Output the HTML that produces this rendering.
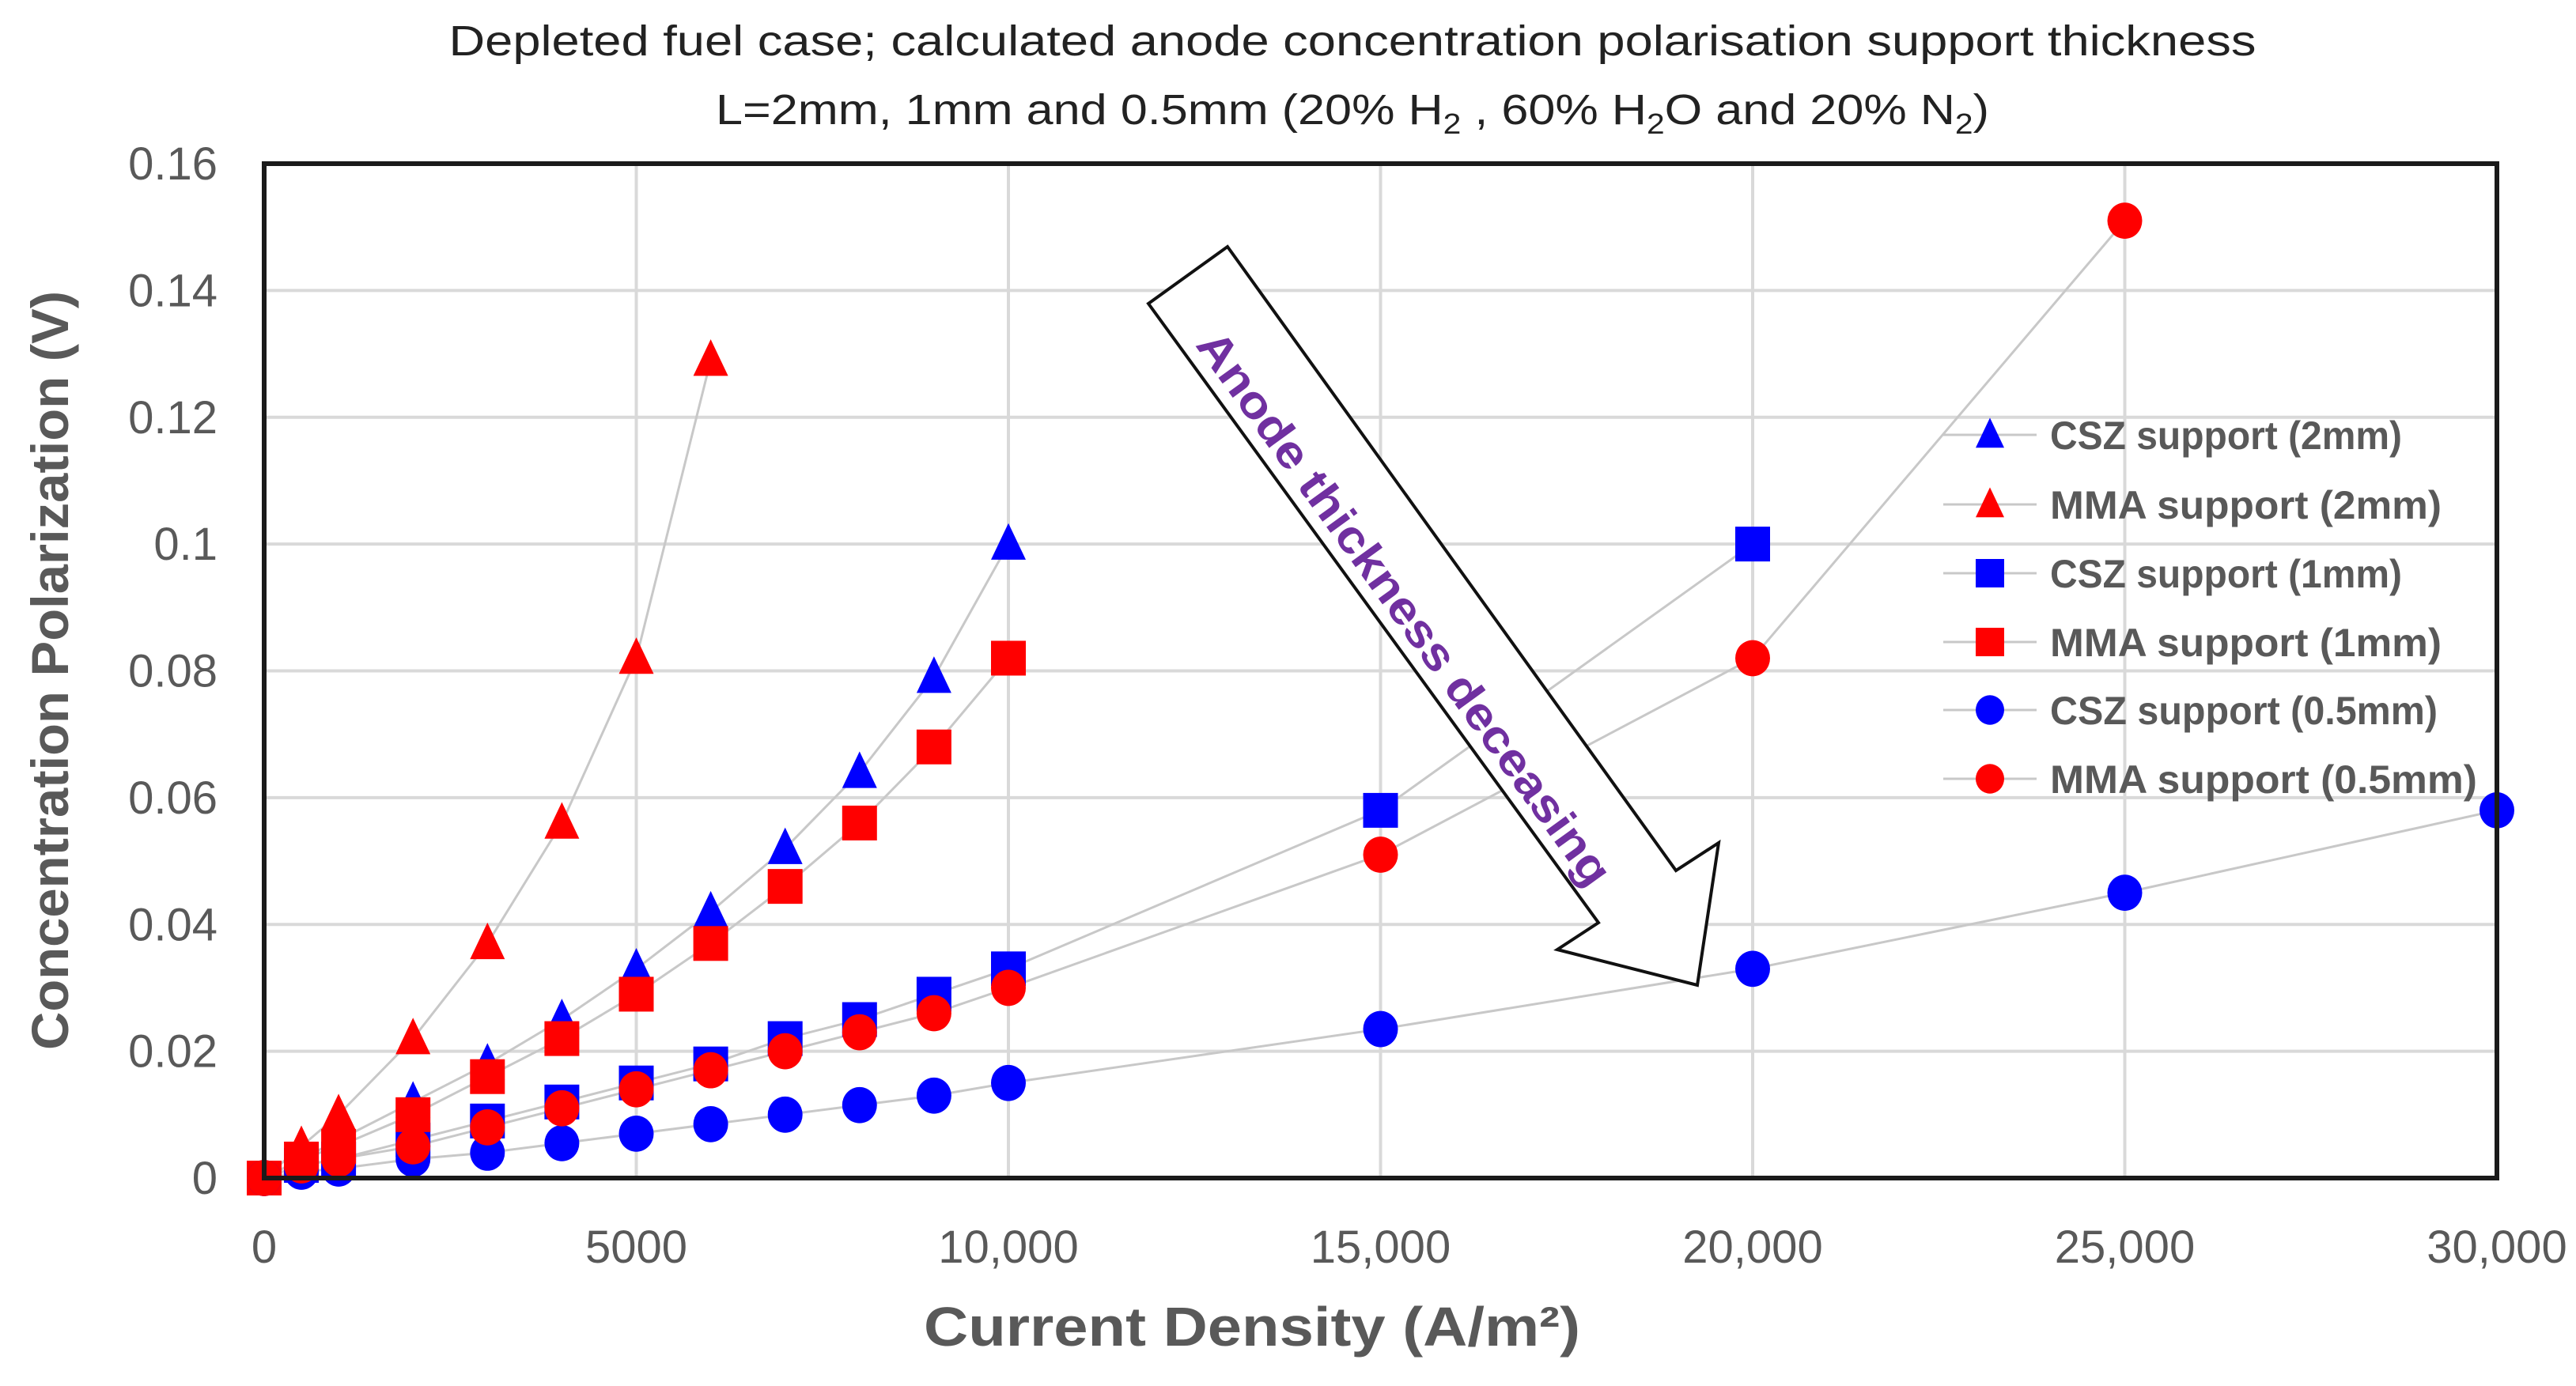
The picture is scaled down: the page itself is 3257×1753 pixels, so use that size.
<!DOCTYPE html>
<html><head><meta charset="utf-8"><style>
html,body{margin:0;padding:0;background:#fff;}
svg{display:block;}
text{font-family:"Liberation Sans",sans-serif;}
</style></head><body>
<svg id="chart" width="3257" height="1753" viewBox="0 0 3257 1753" xmlns="http://www.w3.org/2000/svg">
<g id="grid"></g>
<g id="lines"></g>
<g id="marks"></g>
<rect x="334" y="207" width="2823" height="1283" fill="none" stroke="#1a1a1a" stroke-width="6"/>
<g id="ticks"></g>
<text x="1710" y="70" font-size="54" fill="#222" text-anchor="middle" textLength="2285" lengthAdjust="spacingAndGlyphs">Depleted fuel case; calculated anode concentration polarisation support thickness</text>
<text x="1710" y="157" font-size="54" fill="#222" text-anchor="middle" textLength="1610" lengthAdjust="spacingAndGlyphs">L=2mm, 1mm and 0.5mm (20% H<tspan font-size="36" dy="12">2</tspan><tspan dy="-12"> , 60% H</tspan><tspan font-size="36" dy="12">2</tspan><tspan dy="-12">O and 20% N</tspan><tspan font-size="36" dy="12">2</tspan><tspan dy="-12">)</tspan></text>
<text transform="translate(86,848) rotate(-90)" font-size="66" font-weight="bold" fill="#595959" text-anchor="middle" textLength="960" lengthAdjust="spacingAndGlyphs">Concentration Polarization (V)</text>
<text x="1583" y="1702" font-size="70" font-weight="bold" fill="#595959" text-anchor="middle" textLength="830" lengthAdjust="spacingAndGlyphs">Current Density (A/m²)</text>
<g>
<polygon points="1552,312 2119,1101 2173,1066 2146,1246 1969,1201 2021,1167 1452,384" fill="#fff" stroke="#111" stroke-width="4"/>
<text x="1776" y="769" transform="rotate(54.1 1776 769)" font-size="58" font-weight="bold" fill="#7030A0" text-anchor="middle" dy="20" textLength="850" lengthAdjust="spacingAndGlyphs">Anode  thickness deceasing</text>
</g>
<g id="legend"></g>
</svg>
<script>
const xTicks=[0,5000,10000,15000,20000,25000,30000];
const xTickLabels=["0","5000","10,000","15,000","20,000","25,000","30,000"];
const yTicks=[0,0.02,0.04,0.06,0.08,0.1,0.12,0.14,0.16];
const yTickLabels=["0","0.02","0.04","0.06","0.08","0.1","0.12","0.14","0.16"];
const seriesNames=["CSZ support (2mm)","MMA support (2mm)","CSZ support (1mm)","MMA support (1mm)","CSZ support (0.5mm)","MMA support (0.5mm)"];
const cszX2=[0,500,1000,2000,3000,4000,5000,6000,7000,8000,9000,10000];
const cszY2=[0,0.003,0.006,0.012,0.018,0.025,0.033,0.042,0.052,0.064,0.079,0.1];
const mmaX2=[0,500,1000,2000,3000,4000,5000,6000];
const mmaY2=[0,0.005,0.01,0.022,0.037,0.056,0.082,0.129];
const cszX1=[0,500,1000,2000,3000,4000,5000,6000,7000,8000,9000,10000,15000,20000];
const cszY1=[0,0.002,0.003,0.006,0.009,0.012,0.015,0.018,0.022,0.025,0.029,0.033,0.058,0.1];
const mmaX1=[0,500,1000,2000,3000,4000,5000,6000,7000,8000,9000,10000];
const mmaY1=[0,0.003,0.005,0.01,0.016,0.022,0.029,0.037,0.046,0.056,0.068,0.082];
const cszX05=[0,500,1000,2000,3000,4000,5000,6000,7000,8000,9000,10000,15000,20000,25000,30000];
const cszY05=[0,0.001,0.0015,0.003,0.004,0.0055,0.007,0.0085,0.01,0.0115,0.013,0.015,0.0235,0.033,0.045,0.058];
const mmaX05=[0,500,1000,2000,3000,4000,5000,6000,7000,8000,9000,10000,15000,20000,25000];
const mmaY05=[0,0.002,0.003,0.005,0.008,0.011,0.014,0.017,0.02,0.023,0.026,0.03,0.051,0.082,0.151];

const NS="http://www.w3.org/2000/svg";
const L=334,R=3157,T=207,B=1490;
const xs=v=>L+(v-0)/(30000)*(R-L);
const ys=v=>B-(v/0.16)*(B-T);
function mk(tag,parent){const e=document.createElementNS(NS,tag);parent.appendChild(e);return e;}
const grid=document.getElementById('grid'),ticks=document.getElementById('ticks');
yTicks.forEach((v,i)=>{
 const l=mk('line',grid);
 
 
 l.setAttribute('x1',L);l.setAttribute('x2',R);l.setAttribute('y1',ys(v));l.setAttribute('y2',ys(v));
 l.setAttribute('stroke','#d9d9d9');l.setAttribute('stroke-width','4');
 const t=mk('text',ticks);
 
 
 t.setAttribute('x',275);t.setAttribute('y',ys(v)+20);t.setAttribute('text-anchor','end');
 t.setAttribute('font-size','58');t.setAttribute('fill','#595959');t.textContent=yTickLabels[i];
});
xTicks.forEach((v,i)=>{
 const l=mk('line',grid);
 
 
 l.setAttribute('x1',xs(v));l.setAttribute('x2',xs(v));l.setAttribute('y1',T);l.setAttribute('y2',B);
 l.setAttribute('stroke','#d9d9d9');l.setAttribute('stroke-width','4');
 const t=mk('text',ticks);
 
 
 t.setAttribute('x',xs(v));t.setAttribute('y',1597);t.setAttribute('text-anchor','middle');
 t.setAttribute('font-size','58');t.setAttribute('fill','#595959');t.textContent=xTickLabels[i];
});
const series=[[cszX2,cszY2,'#0000ff','tri'],[mmaX2,mmaY2,'#ff0000','tri'],[cszX1,cszY1,'#0000ff','sq'],[mmaX1,mmaY1,'#ff0000','sq'],[cszX05,cszY05,'#0000ff','circ'],[mmaX05,mmaY05,'#ff0000','circ']];
function marker(parent,shape,cx,cy,col,s){
 let e;
 if(shape==='tri'){e=mk('polygon',parent);e.setAttribute('points',`${cx},${cy-s*0.6} ${cx+s*0.5},${cy+s*0.45} ${cx-s*0.5},${cy+s*0.45}`);}
 else if(shape==='sq'){e=mk('rect',parent);e.setAttribute('x',cx-s*0.5);e.setAttribute('y',cy-s*0.5);e.setAttribute('width',s);e.setAttribute('height',s);}
 else{e=mk('ellipse',parent);e.setAttribute('cx',cx);e.setAttribute('cy',cy);e.setAttribute('rx',s*0.5);e.setAttribute('ry',s*0.52);}
 e.setAttribute('fill',col);return e;
}
const linesG=document.getElementById('lines'),marksG=document.getElementById('marks');
series.forEach(([X,Y,col,shape],si)=>{
 const p=mk('polyline',linesG);
 
 
 p.setAttribute('points',X.map((x,i)=>xs(x)+','+ys(Y[i])).join(' '));
 p.setAttribute('fill','none');p.setAttribute('stroke','#c8c8c8');p.setAttribute('stroke-width','3');
});
series.forEach(([X,Y,col,shape],si)=>{
 X.forEach((x,i)=>{
  const m=marker(marksG,shape,xs(x),ys(Y[i]),col,44);
  
  
 });
});
const lg=document.getElementById('legend');
const legY=[550,638,725,812,898,985];
seriesNames.forEach((n,i)=>{
 const g=mk('g',lg);
 
 
 const l=mk('line',g);l.setAttribute('x1',2457);l.setAttribute('x2',2575);l.setAttribute('y1',legY[i]);l.setAttribute('y2',legY[i]);
 l.setAttribute('stroke','#c8c8c8');l.setAttribute('stroke-width','3');
 marker(g,series[i][3],2516,legY[i],series[i][2],36);
 const t=mk('text',g);t.setAttribute('x',2592);t.setAttribute('y',legY[i]+18);
 t.setAttribute('font-size','50');t.setAttribute('font-weight','bold');t.setAttribute('fill','#595959');
 t.setAttribute('textLength',[445,495,445,495,490,540][i]);t.setAttribute('lengthAdjust','spacingAndGlyphs');
 t.textContent=n;
});
</script>
</body></html>
